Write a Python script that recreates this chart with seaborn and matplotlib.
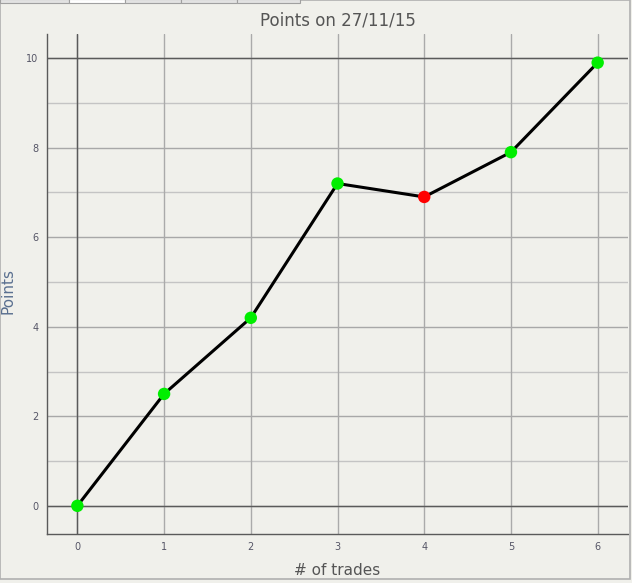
import matplotlib
matplotlib.use("Agg")
import matplotlib.pyplot as plt
import seaborn as sns
import pandas as pd
from matplotlib.patches import Rectangle

# Data
trades = [0, 1, 2, 3, 4, 5, 6]
points = [0.0, 2.5, 4.2, 7.2, 6.9, 7.9, 9.9]
status = ["up", "up", "up", "up", "down", "up", "up"]

df = pd.DataFrame({"trades": trades, "points": points, "status": status})

BG = "#f0f0eb"
sns.set_style("white")
plt.rcParams["font.family"] = ["DejaVu Sans"]

fig = plt.figure(figsize=(6.32, 5.83), dpi=100, facecolor=BG)
ax = fig.add_axes([0.0744, 0.084, 0.9193, 0.8577], facecolor=BG)

ax.set_xlim(-0.35, 6.35)
ax.set_ylim(-0.63, 10.54)

# grid
for y in range(0, 11):
    col = "#a8a8a8" if y % 2 == 0 else "#c4c4c4"
    ax.axhline(y, color=col, lw=1, zorder=0)
for x in range(0, 7):
    ax.axvline(x, color="#aaaaaa", lw=1, zorder=0)
ax.axhline(0, color="#5a5a5a", lw=1, zorder=0.5)
ax.axhline(10, color="#5a5a5a", lw=1, zorder=0.5)
ax.axvline(0, color="#5a5a5a", lw=1, zorder=0.5)

sns.lineplot(data=df, x="trades", y="points", color="black", lw=2.2, ax=ax, zorder=2)
sns.scatterplot(data=df, x="trades", y="points", hue="status",
                palette={"up": "#00ee00", "down": "#ff0000"},
                s=80, linewidth=0, legend=False, ax=ax, zorder=3)

ax.set_xticks(trades)
ax.set_yticks(range(0, 11, 2))
ax.tick_params(axis="both", length=0, labelsize=7, labelcolor="#555566", pad=6)

for side in ["top", "right"]:
    ax.spines[side].set_visible(False)
for side in ["left", "bottom"]:
    ax.spines[side].set_color("#5a5a5a")
    ax.spines[side].set_linewidth(1)

ax.set_title("Points on 27/11/15", fontsize=12, color="#555555", pad=6)
ax.set_xlabel("# of trades", fontsize=11, color="#555555", labelpad=8)
ax.set_ylabel("")
fig.text(0.001, 0.50, "Points", rotation=90, fontsize=11, color="#5a7090",
         ha="left", va="center")

# window frame
fig.patches.append(Rectangle((0.0, 0.007), 0.997, 0.993, transform=fig.transFigure,
                             fill=False, edgecolor="#b0b0b0", lw=1.2))
tabs = [(0, 69, "#e2e2e2"), (69, 125, "#ffffff"), (125, 181, "#e2e2e2"),
        (181, 237, "#e2e2e2"), (237, 300, "#e2e2e2")]
for x0, x1, fc in tabs:
    fig.patches.append(Rectangle((x0 / 632, 0.995), (x1 - x0) / 632, 0.006,
                                 transform=fig.transFigure, fill=True,
                                 facecolor=fc, edgecolor="#a0a0a0", lw=0.8))

fig.savefig("out.png", dpi=100, facecolor=BG)
